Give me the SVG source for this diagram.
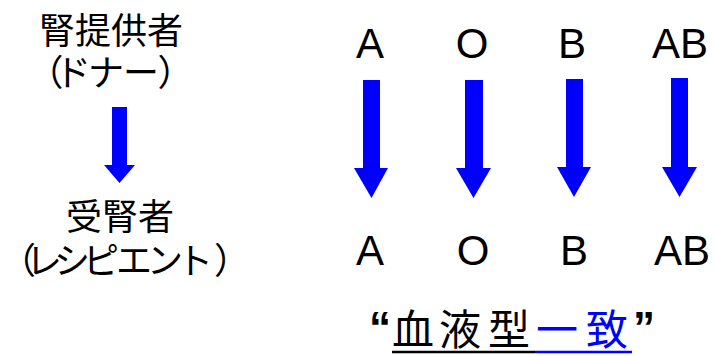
<svg xmlns="http://www.w3.org/2000/svg" width="715" height="356" viewBox="0 0 715 356">
<style>
.jp{font-family:"Noto Sans CJK JP","Liberation Sans",sans-serif;font-size:36px;fill:#000;text-anchor:middle}
.lat{font-family:"Liberation Sans",Arial,sans-serif;font-size:42px;fill:#000;text-anchor:middle}
.arr{fill:#0000FF}
</style>
<rect width="715" height="356" fill="#fff"/>
<g id="donor">
<text class="jp" x="111" y="44">腎提供者</text>
<text class="jp" y="86"><tspan x="45.5">（</tspan><tspan x="73">ド</tspan><tspan x="106">ナ</tspan><tspan x="141">ー</tspan><tspan x="175.5">）</tspan></text>
</g>
<g id="recipient">
<text class="jp" x="120" y="230">受腎者</text>
<text class="jp" y="274"><tspan x="18">（</tspan><tspan x="44">レ</tspan><tspan x="72">シ</tspan><tspan x="101">ピ</tspan><tspan x="134">エ</tspan><tspan x="165">ン</tspan><tspan x="195">ト</tspan><tspan x="232">）</tspan></text>
</g>
<g id="donor-types">
<text class="lat" x="370" y="58">A</text>
<text class="lat" x="472" y="58">O</text>
<text class="lat" x="572" y="58">B</text>
<text class="lat" x="680" y="58">AB</text>
</g>
<g id="recipient-types">
<text class="lat" x="370" y="265">A</text>
<text class="lat" x="473" y="265">O</text>
<text class="lat" x="574" y="265">B</text>
<text class="lat" x="682" y="265">AB</text>
</g>
<g id="connectors">
<polygon class="arr" points="112,107 127,107 127,165 135,165 119.5,183 104,165 112,165"/>
<polygon class="arr" points="363,80 380,80 380,168 388,168 371.5,198 354,168 363,168"/>
<polygon class="arr" points="465,80 483,80 483,168 491,168 473.5,198 456,168 465,168"/>
<polygon class="arr" points="566,79 583,79 583,167 591,167 574,197 557,167 566,167"/>
<polygon class="arr" points="671,78 688,78 688,167 697,167 679.5,197 662,167 671,167"/>
</g>
<g id="caption">
<text font-family="Liberation Sans,Arial,sans-serif" font-size="44" font-weight="bold" x="369" y="343">“</text>
<text font-family="Liberation Sans,Arial,sans-serif" font-size="44" font-weight="bold" x="633" y="343">”</text>
<text font-family="Noto Sans CJK JP,sans-serif" font-size="42" text-anchor="middle" y="345"><tspan x="413">血</tspan><tspan x="460">液</tspan><tspan x="509">型</tspan><tspan x="557" fill="#0000FF">一</tspan><tspan x="607" fill="#0000FF">致</tspan></text>
<line x1="392" y1="352" x2="535" y2="352" stroke="#000" stroke-width="2.5"/>
<line x1="535" y1="352" x2="632" y2="352" stroke="#0000FF" stroke-width="2.5"/>
</g>
</svg>
